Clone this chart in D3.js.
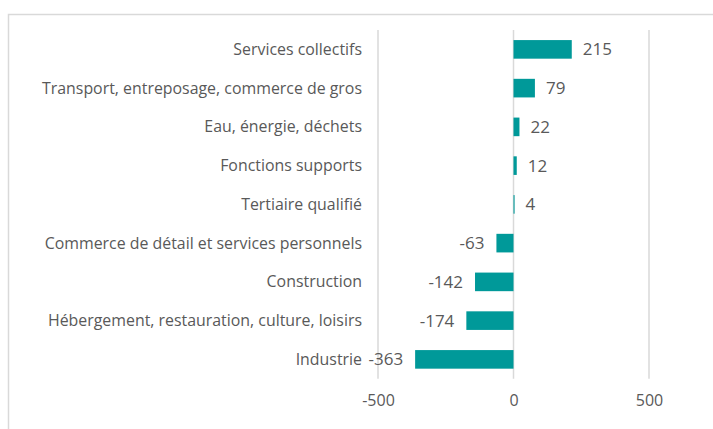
<!DOCTYPE html>
<html>
<head>
<meta charset="utf-8">
<script src="https://cdn.jsdelivr.net/npm/d3@7"></script>
<style>
  body { margin: 0; background: #fff; }
  text { font-family: "Open Sans", Lato, sans-serif; fill: #595959; }
</style>
</head>
<body>
<div id="plot"></div>
<script>
"use strict";

const categories = [
    "Services collectifs",
    "Transport, entreposage, commerce de gros",
    "Eau, énergie, déchets",
    "Fonctions supports",
    "Tertiaire qualifié",
    "Commerce de détail et services personnels",
    "Construction",
    "Hébergement, restauration, culture, loisirs",
    "Industrie"
];
const values = [215, 79, 22, 12, 4, -63, -142, -174, -363];
const xTicks = [-500, 0, 500];

const msm = {
    width: 713,
    height: 429,
    plotLeft: 378,
    plotRight: 649,
    plotTop: 30,
    plotBottom: 378.75
};
const barColor = "#009999";

const svg = d3.select("#plot")
    .append("svg")
    .attr("width", msm.width)
    .attr("height", msm.height);

// chart frame, runs off the right and bottom edges
svg.append("rect")
    .attr("x", 8.5)
    .attr("y", 14.5)
    .attr("width", 720)
    .attr("height", 430)
    .attr("fill", "none")
    .attr("stroke", "#d9d9d9")
    .attr("stroke-width", 1.5);

const xScale = d3.scaleLinear()
    .domain([-500, 500])
    .range([msm.plotLeft, msm.plotRight]);

const yScale = d3.scaleBand()
    .domain(categories)
    .range([msm.plotTop, msm.plotBottom])
    .paddingInner(0.52)
    .paddingOuter(0.26);

// vertical gridlines
svg.append("g")
    .selectAll("line")
    .data(xTicks)
    .enter()
    .append("line")
    .attr("x1", d => xScale(d))
    .attr("x2", d => xScale(d))
    .attr("y1", msm.plotTop)
    .attr("y2", msm.plotBottom)
    .attr("stroke", "#d9d9d9")
    .attr("stroke-width", 1.5);

// x axis tick labels (plain hyphen like the original)
const xAxis = d3.axisBottom(xScale)
    .tickValues(xTicks)
    .tickFormat(d => String(d))
    .tickSize(0)
    .tickPadding(16);
const gx = svg.append("g")
    .attr("transform", "translate(0," + msm.plotBottom + ")")
    .call(xAxis);
gx.select(".domain").remove();
gx.selectAll("text")
    .style("font-size", "16px")
    .style("font-family", "'Open Sans', sans-serif")
    .attr("fill", "#595959");

// bars
svg.append("g")
    .selectAll("rect")
    .data(values)
    .enter()
    .append("rect")
    .attr("x", d => xScale(Math.min(0, d)))
    .attr("y", (d, i) => yScale(categories[i]))
    .attr("width", d => Math.abs(xScale(d) - xScale(0)))
    .attr("height", yScale.bandwidth())
    .attr("fill", barColor);

// category labels, to the left of the plot
svg.append("g")
    .selectAll("text")
    .data(categories)
    .enter()
    .append("text")
    .attr("x", 362)
    .attr("y", d => yScale(d) + yScale.bandwidth() / 2)
    .attr("dy", "0.35em")
    .attr("text-anchor", "end")
    .style("font-size", "15.9px")
    .text(d => d);

// value labels
svg.append("g")
    .selectAll("text")
    .data(values)
    .enter()
    .append("text")
    .attr("x", d => d >= 0 ? xScale(d) + 11 : xScale(d) - 12)
    .attr("y", (d, i) => yScale(categories[i]) + yScale.bandwidth() / 2)
    .attr("dy", "0.35em")
    .attr("text-anchor", d => d >= 0 ? "start" : "end")
    .style("font-size", "17px")
    .text(d => d);
</script>
</body>
</html>
